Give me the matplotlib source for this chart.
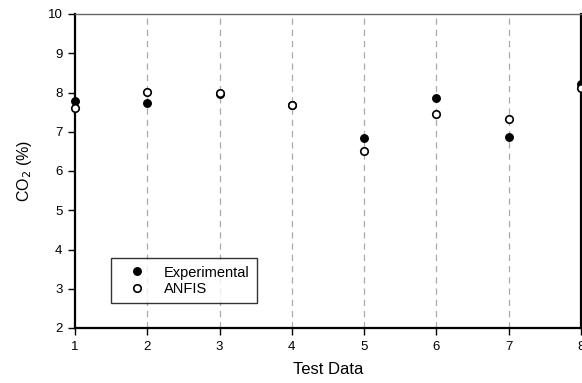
import matplotlib
matplotlib.use("Agg")
import matplotlib.pyplot as plt

plt.rcParams['font.family'] = ['Liberation Sans', 'DejaVu Sans']

test_data = [1, 2, 3, 4, 5, 6, 7, 8]
experimental = [7.78, 7.74, 7.95, 7.67, 6.83, 7.86, 6.87, 8.22]
anfis = [7.61, 8.01, 8.00, 7.69, 6.52, 7.45, 7.32, 8.11]

fig = plt.figure(figsize=(5.82, 3.83), dpi=100)
ax = fig.add_axes([75/582, 1 - 328/383, 506/582, 314/383])

for x in test_data[1:-1]:
    ax.axvline(x, color='#aaaaaa', linestyle=(0, (5, 4)), linewidth=0.9, zorder=0)

ax.plot(test_data, experimental, 'o', color='black', markersize=5.4,
        linestyle='none', label='Experimental', zorder=3, clip_on=False)
ax.plot(test_data, anfis, 'o', markerfacecolor='white', markeredgecolor='black',
        markeredgewidth=1.2, markersize=5.4, linestyle='none', label='ANFIS',
        zorder=4, clip_on=False)

ax.set_xlim(1, 8)
ax.set_ylim(2, 10)
ax.set_xticks(test_data)
ax.set_yticks(range(2, 11))

ax.spines['left'].set_linewidth(1.6)
ax.spines['bottom'].set_linewidth(1.6)
ax.spines['right'].set_linewidth(1.6)
ax.spines['top'].set_linewidth(1.0)
ax.spines['top'].set_color('#666666')

ax.tick_params(direction='out', length=5, width=1, labelsize=9.5, pad=4)

ax.set_xlabel('Test Data', fontsize=12, labelpad=7)
ax.set_ylabel('CO$_2$ (%)', fontsize=11.5, labelpad=10)

leg = ax.legend(loc='lower left', bbox_to_anchor=(0.0711, 0.0796), fontsize=10.5,
                frameon=True, fancybox=False, edgecolor='black',
                handletextpad=0.5, borderpad=0.5, labelspacing=0.15,
                borderaxespad=0, handlelength=2.6)
leg.get_frame().set_linewidth(1.0)

fig.savefig('out.png', dpi=100)
